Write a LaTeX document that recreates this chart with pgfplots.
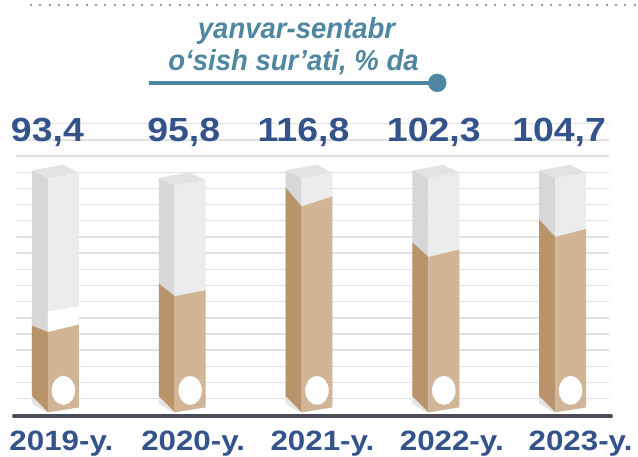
\documentclass[border=0pt]{standalone}
\usepackage{pgfplots}
\pgfplotsset{compat=1.18}
\usepackage{fontspec}
\setmainfont{Liberation Sans}
\newfontfamily\numfont[FakeStretch=1.12]{Liberation Sans}
\newfontfamily\titlefont[FakeStretch=0.95]{Liberation Sans}
\definecolor{numblue}{HTML}{34538A}
\definecolor{titleblue}{HTML}{4F86A0}
\definecolor{baseln}{HTML}{4B4B5A}
\definecolor{gridc}{HTML}{E2E2E2}
\definecolor{tanfront}{HTML}{D2B596}
\definecolor{tanleft}{HTML}{B9936A}
\definecolor{grayfront}{HTML}{ECECEC}
\definecolor{grayleft}{HTML}{D7D7D7}
\definecolor{graytop}{HTML}{E3E3E3}
\definecolor{shadow}{HTML}{E4E4E4}
\tikzset{vlab/.style={anchor=base, inner sep=0pt, text=numblue, font=\numfont\bfseries\fontsize{33.5}{36}\selectfont},
         ylab/.style={anchor=base, inner sep=0pt, text=numblue, font=\numfont\bfseries\fontsize{28}{30}\selectfont},
         tlab/.style={anchor=base, inner sep=0pt, text=titleblue, font=\titlefont\bfseries\itshape\fontsize{29}{32}\selectfont}}
\begin{document}
\begin{tikzpicture}
\begin{axis}[
  width=638pt, height=456pt, scale only axis,
  xmin=0, xmax=638, ymin=0, ymax=456, y dir=reverse,
  hide axis, clip=false,
  poly/.style={fill=#1, draw=none, forget plot, mark=none},
]
\addplot[draw=none, mark=none, forget plot] coordinates {(0,0) (638,456)};
% dotted top line
\addplot[color=black!40, line width=2pt, dash pattern=on 2pt off 7.3pt, mark=none] coordinates {(30,5) (638,5)};
% grid lines
\pgfplotsinvokeforeach{123.9,140.1,156.3,172.5,188.7,204.9,221.1,237.3,253.5,269.7,285.9,302.1,318.3,334.5,350.7,366.9,383.1,399.3}{
  \addplot[color=gridc, line width=1.4pt, mark=none, forget plot] coordinates {(16,#1) (610,#1)};
}
% ---- bar 1 (2019): 93,4
\addplot[poly=grayleft]  coordinates {(32,170.7) (48,178.3) (48,413) (32,397)};
\addplot[poly=grayfront] coordinates {(48,178.3) (79,173) (79,408) (48,413)};
\addplot[poly=graytop]   coordinates {(32,170.7) (63,165) (79,173) (48,178.3)};
\addplot[poly=white]     coordinates {(48,312) (79,307) (79,325) (48,332.7)};
\addplot[poly=tanleft]   coordinates {(32,326) (48,332.7) (48,413) (32,397)};
\addplot[poly=tanfront]  coordinates {(48,332.7) (79,325) (79,408) (48,413)};
\addplot[poly=shadow]    coordinates {(32,397) (32,404) (46,413) (48,413)};
% ---- bar 2 (2020): 95,8
\addplot[poly=grayleft]  coordinates {(159,178.2) (175,185.8) (175,413) (159,397)};
\addplot[poly=grayfront] coordinates {(175,185.8) (206,180.5) (206,408) (175,413)};
\addplot[poly=graytop]   coordinates {(159,178.2) (190,172.5) (206,180.5) (175,185.8)};
\addplot[poly=tanleft]   coordinates {(159,284) (175,296.7) (175,413) (159,397)};
\addplot[poly=tanfront]  coordinates {(175,296.7) (206,290.7) (206,408) (175,413)};
\addplot[poly=shadow]    coordinates {(159,397) (159,404) (173,413) (175,413)};
% ---- bar 3 (2021): 116,8
\addplot[poly=grayleft]  coordinates {(286,170.7) (302,178.3) (302,413) (286,397)};
\addplot[poly=grayfront] coordinates {(302,178.3) (333,173) (333,408) (302,413)};
\addplot[poly=graytop]   coordinates {(286,170.7) (317,165) (333,173) (302,178.3)};
\addplot[poly=tanleft]   coordinates {(286,187.7) (302,206.7) (302,413) (286,397)};
\addplot[poly=tanfront]  coordinates {(302,206.7) (333,196.7) (333,408) (302,413)};
\addplot[poly=shadow]    coordinates {(286,397) (286,404) (300,413) (302,413)};
% ---- bar 4 (2022): 102,3
\addplot[poly=grayleft]  coordinates {(413,170.7) (429,178.3) (429,413) (413,397)};
\addplot[poly=grayfront] coordinates {(429,178.3) (460,173) (460,408) (429,413)};
\addplot[poly=graytop]   coordinates {(413,170.7) (444,165) (460,173) (429,178.3)};
\addplot[poly=tanleft]   coordinates {(413,242.7) (429,257.3) (429,413) (413,397)};
\addplot[poly=tanfront]  coordinates {(429,257.3) (460,250) (460,408) (429,413)};
\addplot[poly=shadow]    coordinates {(413,397) (413,404) (427,413) (429,413)};
% ---- bar 5 (2023): 104,7
\addplot[poly=grayleft]  coordinates {(540,170.7) (556,178.3) (556,413) (540,397)};
\addplot[poly=grayfront] coordinates {(556,178.3) (587,173) (587,408) (556,413)};
\addplot[poly=graytop]   coordinates {(540,170.7) (571,165) (587,173) (556,178.3)};
\addplot[poly=tanleft]   coordinates {(540,220) (556,237.3) (556,413) (540,397)};
\addplot[poly=tanfront]  coordinates {(556,237.3) (587,229.3) (587,408) (556,413)};
\addplot[poly=shadow]    coordinates {(540,397) (540,404) (554,413) (556,413)};
% white ovals
\addplot[color=white, only marks, mark=*, mark size=11.5pt, mark options={yscale=1.24, fill=white, draw=white}, forget plot]
  coordinates {(63.5,391) (190.5,391) (317.5,391) (444.5,391) (571.5,391)};
% base line
\addplot[color=baseln, line width=4pt, line cap=round, mark=none] coordinates {(14,417) (612,417)};
% title underline and dot
\addplot[color=titleblue, line width=4pt, mark=none] coordinates {(149,83) (436,83)};
\addplot[color=titleblue, only marks, mark=*, mark size=9pt, mark options={fill=titleblue, draw=titleblue}] coordinates {(438,83)};
% title
\node[tlab] at (axis cs:297,39) {yanvar-sentabr};
\node[tlab] at (axis cs:294,71) {o‘sish sur’ati, \% da};
% value labels
\node[vlab] at (axis cs:47.5,142) {93,4};
\node[vlab] at (axis cs:184,142) {95,8};
\node[vlab] at (axis cs:304,142) {116,8};
\node[vlab] at (axis cs:434.5,142) {102,3};
\node[vlab] at (axis cs:560,142) {104,7};
% year labels
\node[ylab] at (axis cs:61.5,451) {2019-y.};
\node[ylab] at (axis cs:193.5,451) {2020-y.};
\node[ylab] at (axis cs:323,451) {2021-y.};
\node[ylab] at (axis cs:452.5,451) {2022-y.};
\node[ylab] at (axis cs:581.5,451) {2023-y.};
\end{axis}
\end{tikzpicture}
\end{document}
